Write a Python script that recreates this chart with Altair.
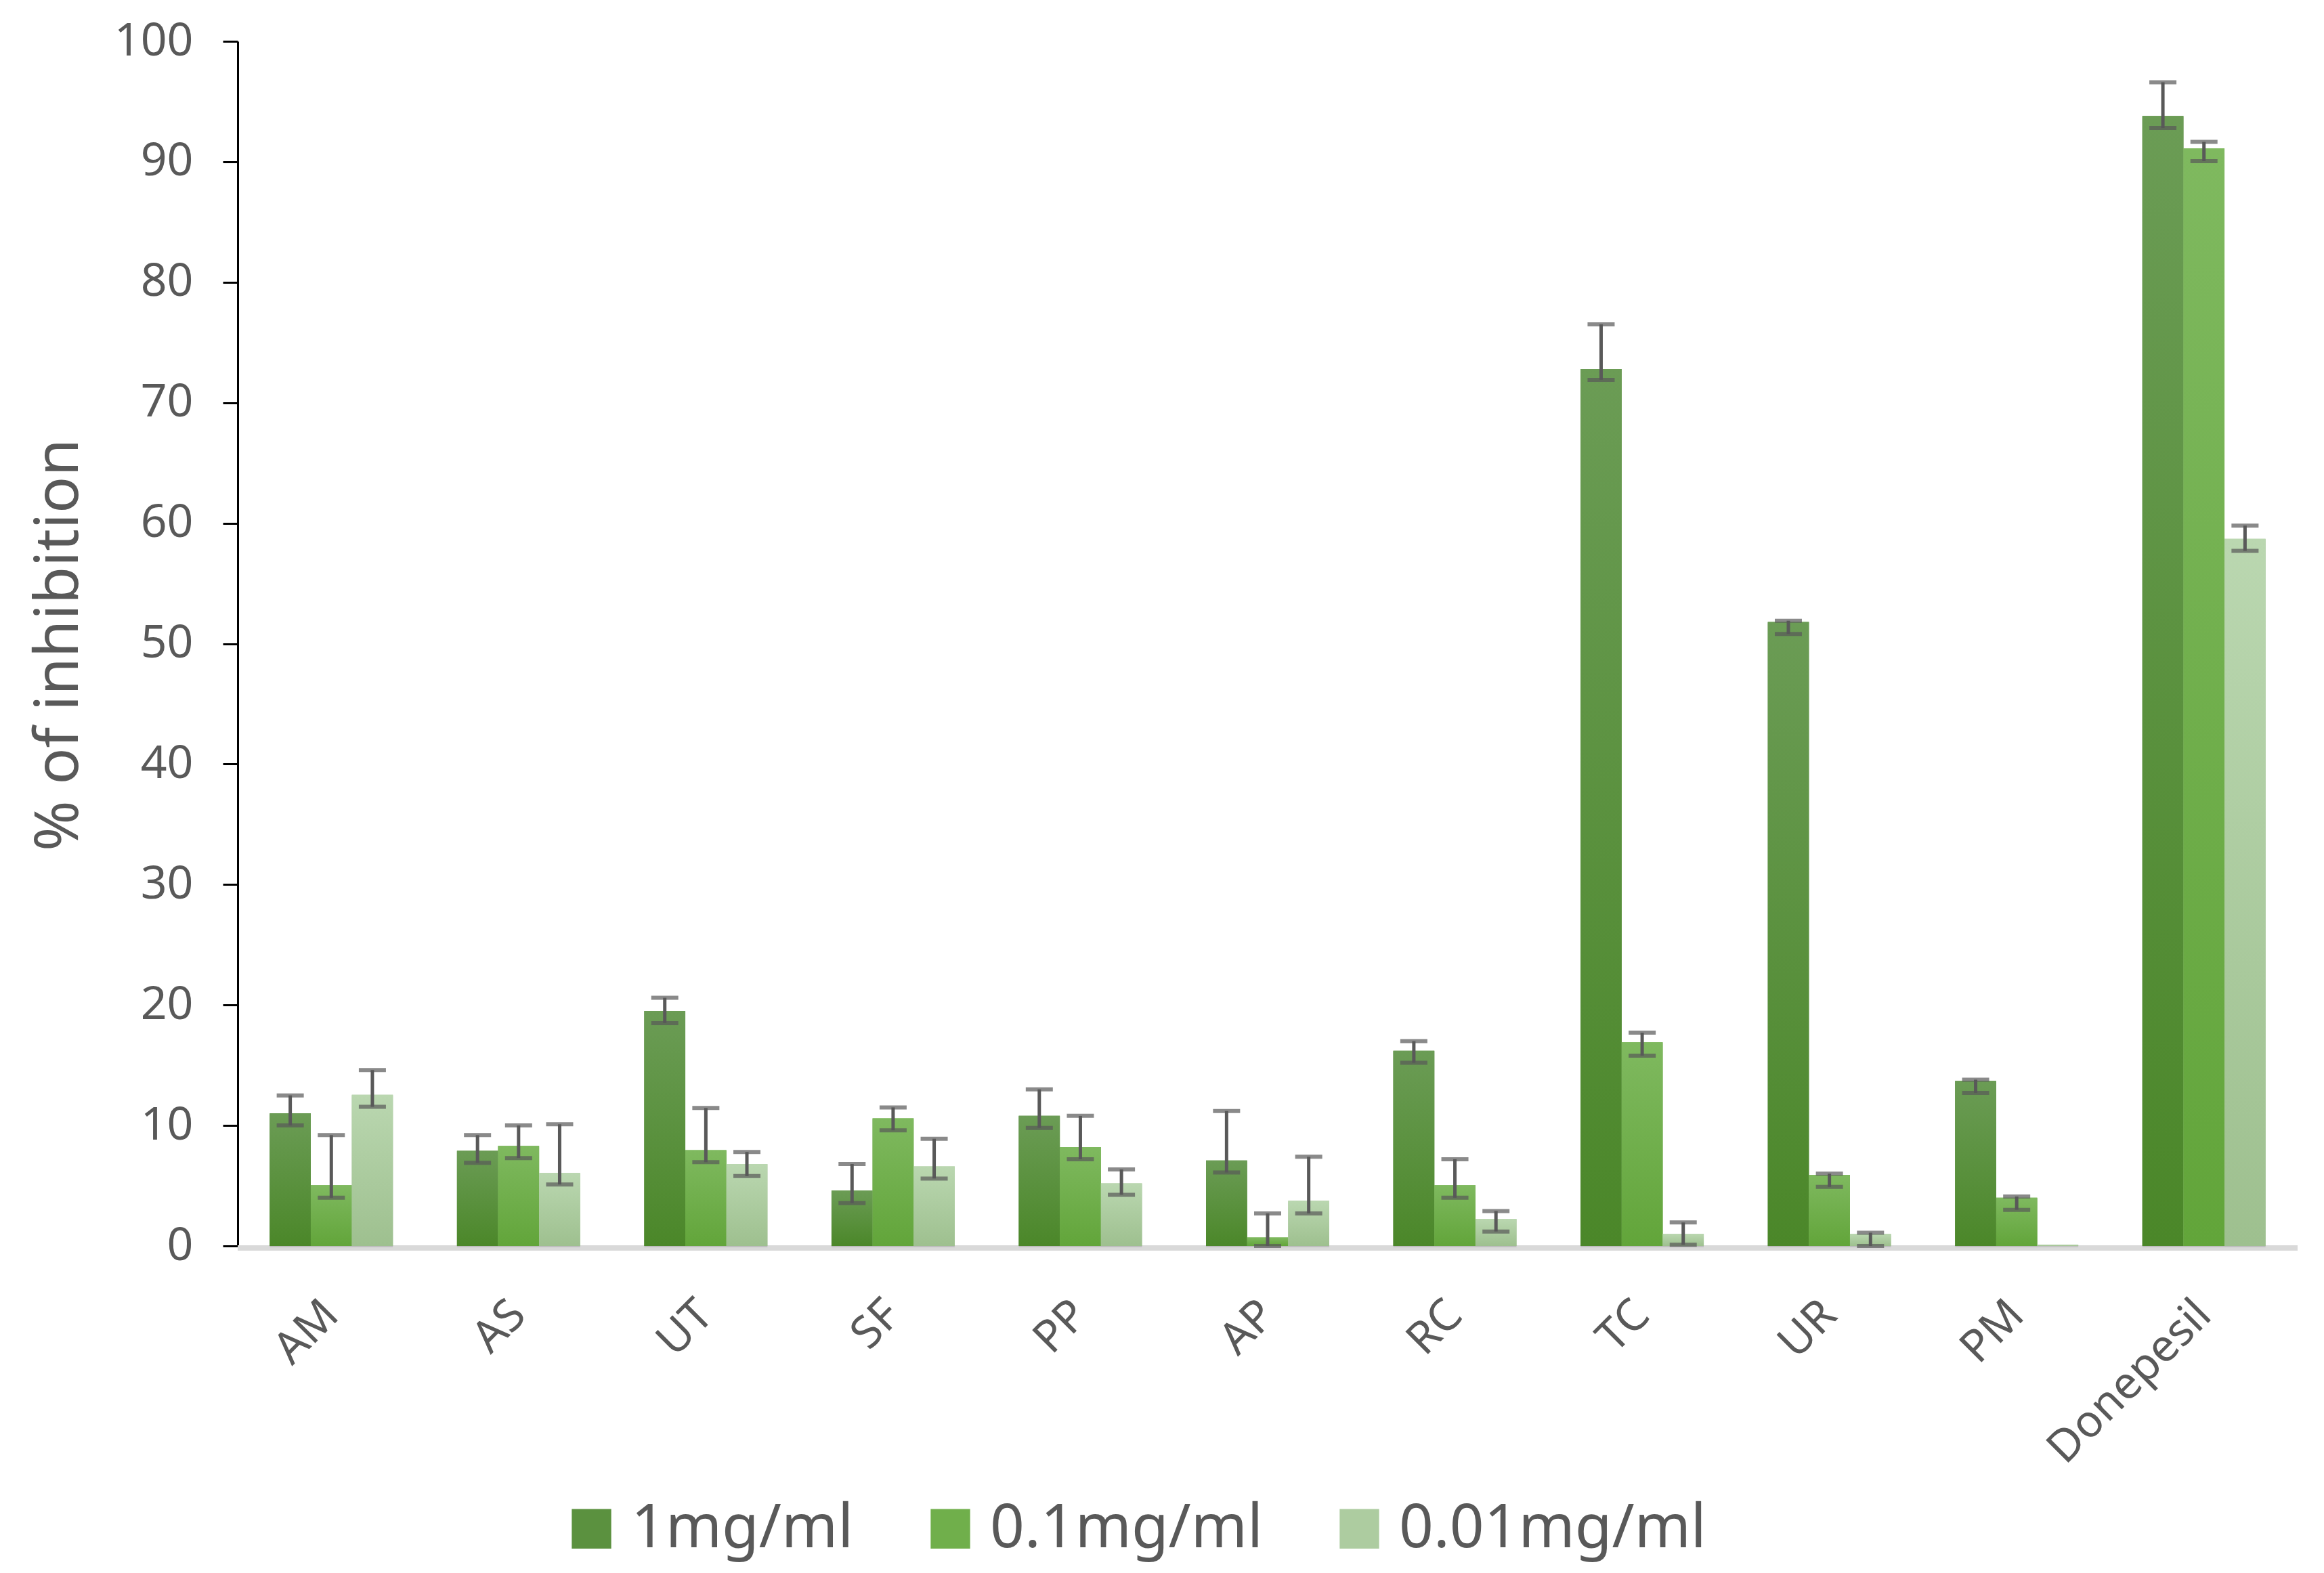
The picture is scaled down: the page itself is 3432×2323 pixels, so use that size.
import altair as alt
import pandas as pd

categories = ["AM", "AS", "UT", "SF", "PP", "AP", "RC", "TC", "UR", "PM", "Donepesil"]
series = ["1mg/ml", "0.1mg/ml", "0.01mg/ml"]

v_1 = [11.0, 7.9, 19.5, 4.6, 10.8, 7.1, 16.2, 72.8, 51.8, 13.7, 93.8]
lo_1 = [10.0, 6.9, 18.5, 3.55, 9.8, 6.1, 15.2, 71.9, 50.8, 12.7, 92.8]
hi_1 = [12.5, 9.2, 20.6, 6.8, 13.0, 11.2, 17.0, 76.5, 51.9, 13.8, 96.6]

v_01 = [5.05, 8.3, 7.95, 10.6, 8.2, 0.7, 5.05, 16.9, 5.9, 4.0, 91.1]
lo_01 = [4.0, 7.3, 6.95, 9.6, 7.2, 0.0, 4.0, 15.8, 4.9, 3.0, 90.05]
hi_01 = [9.2, 10.0, 11.45, 11.5, 10.8, 2.7, 7.2, 17.7, 6.0, 4.1, 91.65]

v_001 = [12.55, 6.05, 6.8, 6.6, 5.2, 3.75, 2.25, 1.0, 1.0, 0.1, 58.7]
lo_001 = [11.55, 5.1, 5.8, 5.6, 4.25, 2.7, 1.2, 0.1, 0.0, None, 57.7]
hi_001 = [14.6, 10.1, 7.8, 8.9, 6.35, 7.4, 2.9, 1.95, 1.1, None, 59.8]

solid_colors = ["#5b913f", "#70af4b", "#adcca0"]
grad_top = ["#6b9c55", "#7fb95f", "#bad7b0"]
grad_bottom = ["#4b8729", "#62a53a", "#9ec08f"]

rows = []
for s, vals, los, his in zip(series, [v_1, v_01, v_001], [lo_1, lo_01, lo_001], [hi_1, hi_01, hi_001]):
    for c, v, lo, hi in zip(categories, vals, los, his):
        rows.append({"cat": c, "series": s, "value": v, "lo": lo, "hi": hi})
df = pd.DataFrame(rows)

W, H = 3042, 1779
TITLE = "% of inhibition"
GRAY = "#595959"
FONT = "Noto Sans"

x_enc = alt.X(
    "cat:N",
    sort=categories,
    scale=alt.Scale(domain=categories, paddingInner=0, paddingOuter=0),
    title=None,
    axis=alt.Axis(
        labelAngle=-45, labelAlign="right", labelBaseline="middle",
        labelFont=FONT, labelFontSize=66, labelColor=GRAY, labelLimit=0,
        labelPadding=91, ticks=False, tickSize=0, domain=False,
    ),
)
xo_enc = alt.XOffset(
    "series:N", sort=series,
    scale=alt.Scale(domain=series, paddingInner=0, paddingOuter=0.78),
)
y_axis = alt.Axis(
    values=list(range(0, 101, 10)), grid=False,
    domainColor="black", domainWidth=3, tickColor="black", tickWidth=3, tickSize=22,
    labelFont=FONT, labelFontSize=68, labelColor=GRAY, labelPadding=44,
    titleFont=FONT, titleFontSize=90, titleColor=GRAY, titleFontWeight="normal",
    titleX=-237, titleY=891, titleBaseline="alphabetic",
)
y_scale = alt.Scale(domain=[0, 100], nice=False)


def yfield(f):
    return alt.Y(f"{f}:Q", scale=y_scale, axis=y_axis, title=TITLE)


base = alt.Chart(df)

baseline = base.mark_rule(color="#d9d9d9", strokeWidth=7, yOffset=3).encode(
    y=alt.YDatum(0, scale=y_scale, axis=y_axis, title=TITLE),
    x=alt.value(0), x2=alt.value(W),
)

shadow = base.mark_bar(color="black", opacity=0.12, xOffset=6, yOffset=2).encode(
    x=x_enc, xOffset=xo_enc, y=yfield("value")
)

solid = base.mark_bar().encode(
    x=x_enc, xOffset=xo_enc, y=yfield("value"),
    color=alt.Color(
        "series:N", sort=series,
        scale=alt.Scale(domain=series, range=solid_colors),
        legend=alt.Legend(
            orient="none", legendX=478, legendY=2152, direction="horizontal",
            title=None, symbolType="square", symbolSize=3400, symbolStrokeWidth=0,
            labelFont=FONT, labelFontSize=89, labelColor=GRAY, labelOffset=14,
            labelLimit=0, columnPadding=98, padding=0,
        ),
    ),
)

grad_layers = []
for s, top, bot in zip(series, grad_top, grad_bottom):
    g = alt.LinearGradient(
        gradient="linear",
        stops=[alt.GradientStop(color=top, offset=0), alt.GradientStop(color=bot, offset=1)],
        x1=0, x2=0, y1=0, y2=1,
    )
    grad_layers.append(
        base.transform_filter(alt.datum.series == s).mark_bar(color=g).encode(
            x=x_enc, xOffset=xo_enc, y=yfield("value")
        )
    )

err_base = base.transform_filter("isValid(datum.lo) && isValid(datum.hi)")
err_rule = err_base.mark_rule(color=GRAY, strokeWidth=5).encode(
    x=x_enc, xOffset=xo_enc, y=yfield("lo"), y2="hi:Q"
)
cap_lo = err_base.mark_tick(color=GRAY, thickness=6, size=40, orient="horizontal").encode(
    x=x_enc, xOffset=xo_enc, y=yfield("lo")
)
cap_hi = err_base.mark_tick(color=GRAY, thickness=6, size=40, orient="horizontal").encode(
    x=x_enc, xOffset=xo_enc, y=yfield("hi")
)

chart = alt.layer(
    baseline, shadow, solid, *grad_layers, err_rule, cap_lo, cap_hi
).properties(
    width=W, height=H,
    padding={"left": 343, "top": 53, "right": 31, "bottom": 475},
    autosize=alt.AutoSizeParams(type="none"),
    background="white",
).configure_view(stroke=None)

chart.save("out.html", embed_options={"renderer": "svg", "actions": False})
